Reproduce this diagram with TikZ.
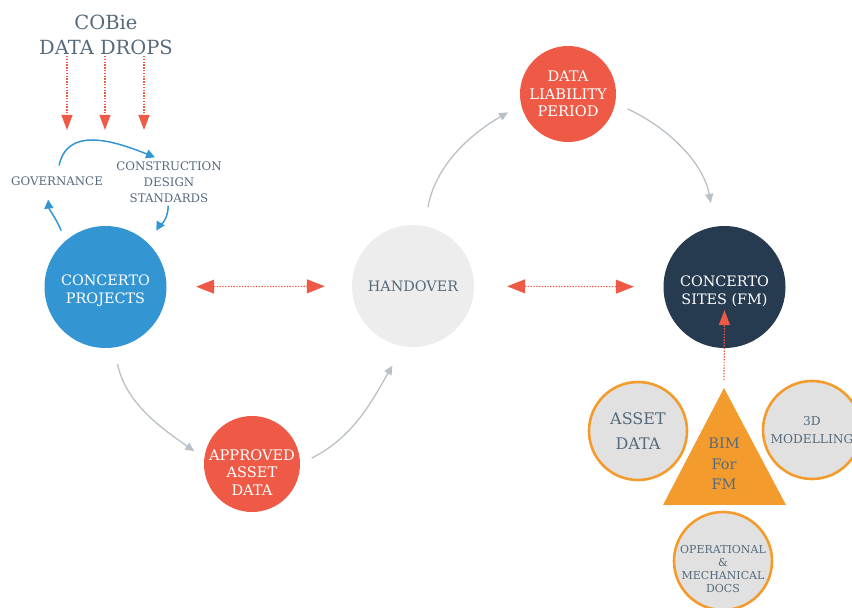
\documentclass[tikz,border=0pt]{standalone}
\usepackage{fontspec}
\setmainfont{DejaVu Serif}
\usepackage{tikz}
\usetikzlibrary{arrows.meta,positioning,calc}
\definecolor{cblue}{HTML}{3396D3}
\definecolor{cred}{HTML}{EE5A46}
\definecolor{cnavy}{HTML}{263B4F}
\definecolor{corange}{HTML}{F39B2C}
\definecolor{clight}{HTML}{EDEDED}
\definecolor{cgreyfill}{HTML}{E1E1E1}
\definecolor{carrow}{HTML}{B8C1C7}
\definecolor{ctext}{HTML}{566A7C}
\tikzset{
  bigdisc/.style={circle, minimum size=122pt, inner sep=0pt, align=center, text=white, font=\fontsize{14.4}{18}\selectfont},
  reddisc/.style={circle, fill=cred, minimum size=96pt, inner sep=0pt, align=center, text=white, font=\fontsize{14.6}{17.5}\selectfont},
  ringdisc/.style={circle, fill=cgreyfill, draw=corange, line width=2.6pt, minimum size=98pt, inner sep=0pt, align=center, text=ctext},
  disctext/.style={inner sep=0pt, align=center, text=white, font=\fontsize{14.4}{18}\selectfont},
  lbl/.style={inner sep=1pt, align=center, text=ctext, font=\fontsize{11.8}{16}\selectfont},
  greyarrow/.style={draw=carrow, line width=1.3pt, -{Triangle[length=9pt,width=8pt]}},
  bluearrow/.style={draw=cblue, line width=1.5pt, -{Triangle[length=9pt,width=9pt]}},
  reddots/.style={draw=cred, line width=1.2pt, dash pattern=on 1.4pt off 1.4pt},
  redboth/.style={reddots, {Triangle[length=18pt,width=14pt]}-{Triangle[length=18pt,width=14pt]}},
  reddown/.style={reddots, -{Triangle[length=15pt,width=11pt]}}
}
\begin{document}
\begin{tikzpicture}[x=1pt,y=1pt]
  \useasboundingbox (0,0) rectangle (852,608);
  \clip (0,0) rectangle (852,608);
  \node[lbl, font=\fontsize{19.5}{25}\selectfont] (cobie) at (106,573) {COBie\\DATA DROPS};
  \coordinate (drop1) at (67,478);
  \coordinate (drop2) at (105,478);
  \coordinate (drop3) at (144,478);
  \node[lbl] (govern) at (57,427) {GOVERNANCE};
  \node[lbl] (standards) at (169,426) {CONSTRUCTION\\DESIGN\\STANDARDS};
  \node[bigdisc, fill=cblue, label={[disctext, yshift=-4pt]center:CONCERTO\\PROJECTS}] (projects) at (105.5,321) {};
  \node[bigdisc, fill=clight, text=ctext] (handover) at (413,322) {HANDOVER};
  \node[bigdisc, fill=cnavy, label={[disctext, yshift=-4pt]center:CONCERTO\\SITES (FM)}] (sites) at (724.5,321) {};
  \node[reddisc] (liability) at (568,514) {DATA\\LIABILITY\\PERIOD};
  \node[reddisc, label={[disctext, font=\fontsize{14.6}{17.5}\selectfont, yshift=-8.5pt]center:APPROVED\\ASSET\\DATA}] (approved) at (252,144) {};
  \node[ringdisc, font=\fontsize{16}{25}\selectfont] (asset) at (638,177) {ASSET\\DATA};
  \node[ringdisc, font=\fontsize{12.2}{18}\selectfont] (modelling) at (812,178) {3D\\MODELLING};
  \node[ringdisc, label={[disctext, text=ctext, font=\fontsize{11}{12.8}\selectfont, yshift=-8pt]center:OPERATIONAL\\\&\\MECHANICAL\\DOCS}] (docs) at (723,47) {};
  \coordinate (bimtop) at (724,220);
  \fill[corange] (bimtop) -- (663,103) -- (786,103) -- cycle;
  \node[inner sep=0pt, align=center, text=ctext, font=\fontsize{14.5}{20.5}\selectfont] (bim) at (724,144) {BIM\\For\\FM};
  \foreach \d in {drop1,drop2,drop3}
    \draw[reddown] (cobie.south -| \d) -- (\d);
  \draw[redboth, shorten <=29.5pt, shorten >=27pt] (projects) -- (handover);
  \draw[redboth, shorten <=33pt, shorten >=29.5pt] (handover) -- (sites);
  \draw[reddown] ([yshift=8pt]bimtop) -- ([yshift=38pt]sites.south);
  \draw[greyarrow, shorten <=17pt, shorten >=12pt] (projects.-82) to[out=-78,in=145] (approved.173);
  \draw[greyarrow, shorten <=13pt, shorten >=22pt] (approved.0) to[out=27,in=240] (handover.-99);
  \draw[greyarrow, shorten <=19pt, shorten >=15pt] (handover.79) to[out=80,in=210] (liability.193);
  \draw[greyarrow, shorten <=13.5pt, shorten >=24pt] (liability.-11) to[out=-25,in=100] (sites.99);
  \draw[bluearrow, shorten <=10pt] (govern.north) to[out=78,in=158,looseness=1.25] ([xshift=-14pt,yshift=3pt]standards.north);
  \draw[bluearrow, shorten <=11pt, shorten >=13pt] (projects.131) to[out=112,in=-85] ([xshift=-10pt]govern.south);
  \draw[bluearrow, shorten <=2pt, shorten >=15pt] ([xshift=-1pt]standards.south) to[out=-88,in=60] (projects.45);
\end{tikzpicture}
\end{document}
